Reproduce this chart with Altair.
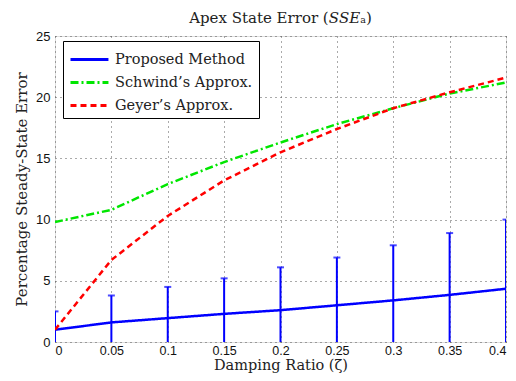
import altair as alt
import pandas as pd

zeta = [0, 0.05, 0.1, 0.15, 0.2, 0.25, 0.3, 0.35, 0.4]
proposed = [1.0, 1.6, 1.95, 2.3, 2.6, 3.0, 3.4, 3.85, 4.35]
proposed_err = [1.5, 2.2, 2.55, 2.9, 3.5, 3.9, 4.5, 5.05, 5.65]
schwind = [9.8, 10.8, 12.9, 14.7, 16.3, 17.8, 19.1, 20.3, 21.2]
geyer = [1.0, 6.7, 10.3, 13.2, 15.5, 17.4, 19.1, 20.4, 21.6]
series_names = ["Proposed Method", "Schwind\u2019s Approx.", "Geyer\u2019s Approx."]
series_colors = ["#0000ff", "#00e600", "#ff0000"]
series_dashes = [[1, 0], [8, 3, 2, 3], [6, 4]]

rows = []
for name, vals in zip(series_names, [proposed, schwind, geyer]):
    for z, v in zip(zeta, vals):
        rows.append({"zeta": z, "value": v, "series": name})
lines_df = pd.DataFrame(rows)

err_df = pd.DataFrame({
    "zeta": zeta,
    "lo": [m - e for m, e in zip(proposed, proposed_err)],
    "hi": [m + e for m, e in zip(proposed, proposed_err)],
})

serif = "DejaVu Serif"
sans = "Liberation Sans"

xscale = alt.Scale(domain=[0, 0.4], nice=False, zero=False)
yscale = alt.Scale(domain=[0, 25], nice=False)

xaxis = alt.Axis(values=zeta, format="~g", title="Damping Ratio (\u03b6)",
                 titleFont=serif, titleFontSize=14.5, titleFontWeight="normal",
                 titleColor="#222", titleBaseline="alphabetic", titleY=27,
                 labelFont=sans, labelFontSize=12.5, labelColor="#111",
                 labelPadding=2, ticks=False, domain=False,
                 grid=True, gridDash=[1, 4], gridColor="#555", gridWidth=1)
yaxis = alt.Axis(values=[0, 5, 10, 15, 20, 25], title="Percentage Steady-State Error",
                 titleFont=serif, titleFontSize=15, titleFontWeight="normal",
                 titleColor="#222", titlePadding=6,
                 labelFont=sans, labelFontSize=13, labelColor="#111",
                 labelPadding=5, ticks=False, domain=False,
                 grid=True, gridDash=[1, 4], gridColor="#555", gridWidth=1)

lines = alt.Chart(lines_df).mark_line(strokeWidth=2.5, clip=True).encode(
    x=alt.X("zeta:Q", scale=xscale, axis=xaxis),
    y=alt.Y("value:Q", scale=yscale, axis=yaxis),
    color=alt.Color("series:N", scale=alt.Scale(domain=series_names, range=series_colors),
                    legend=alt.Legend(title=None, orient="none", legendX=8, legendY=5,
                                      labelFont=serif, labelFontSize=14.5, labelColor="#222",
                                      symbolType="M-1,0H2.45", symbolSize=484, symbolStrokeWidth=3,
                                      strokeColor="black", fillColor="white", padding=6,
                                      rowPadding=4, labelLimit=300, labelOffset=21)),
    strokeDash=alt.StrokeDash("series:N", scale=alt.Scale(domain=series_names, range=series_dashes),
                              legend=None),
    order=alt.Order("zeta:Q"),
)

bars = alt.Chart(err_df).mark_rule(color="#0000ff", strokeWidth=2, clip=True).encode(
    x=alt.X("zeta:Q", scale=xscale),
    y=alt.Y("lo:Q", scale=yscale),
    y2="hi:Q",
)
caps = alt.Chart(err_df).mark_tick(color="#0000ff", thickness=2, size=7, orient="horizontal", clip=True).encode(
    x=alt.X("zeta:Q", scale=xscale),
    y=alt.Y("hi:Q", scale=yscale),
)

chart = alt.layer(bars, caps, lines).properties(
    width=451, height=306,
    autosize=alt.AutoSizeParams(type="none"),
    padding={"left": 47, "top": 28, "right": 2, "bottom": 31},
    title=alt.Title("Apex State Error (\U0001D446\U0001D446\U0001D438\u2090)", font=serif, fontSize=15,
                    fontWeight="normal", color="#222", offset=4),
).configure_view(stroke="black", strokeWidth=1.5).configure(background="white")

chart.save("out.html", embed_options={"renderer": "svg", "actions": False})
